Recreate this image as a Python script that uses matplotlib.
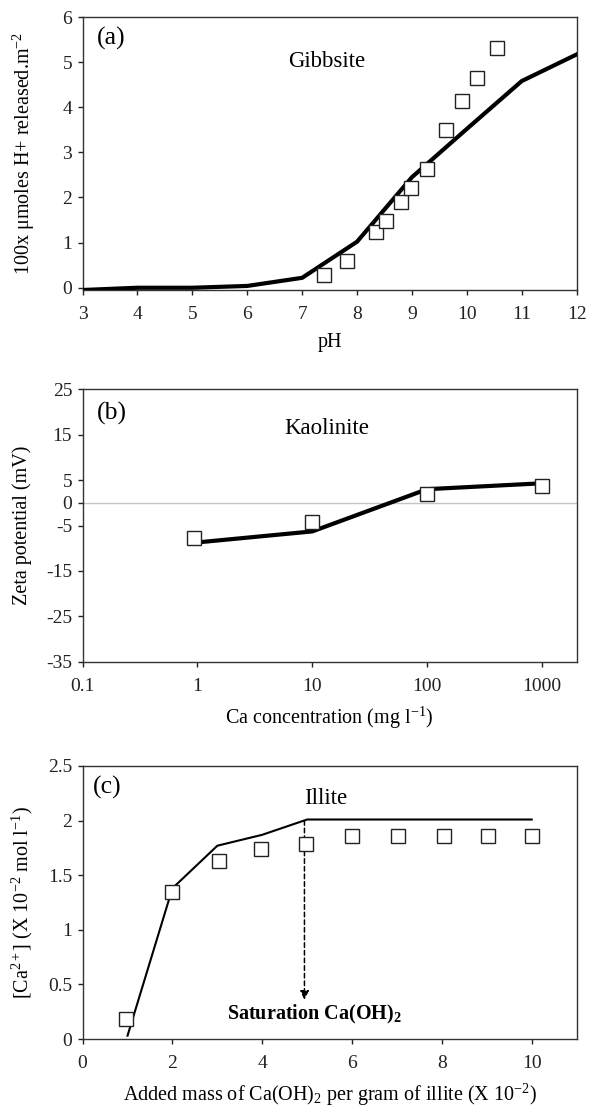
import matplotlib
matplotlib.use("Agg")
import matplotlib.pyplot as plt
from matplotlib.ticker import FixedLocator, FixedFormatter, NullLocator

plt.rcParams['font.family'] = ['Liberation Serif', 'DejaVu Serif']
plt.rcParams['mathtext.fontset'] = 'custom'
plt.rcParams['mathtext.rm'] = 'Liberation Serif'
plt.rcParams['mathtext.it'] = 'Liberation Serif:italic'
plt.rcParams['mathtext.bf'] = 'Liberation Serif:bold'
plt.rcParams['axes.unicode_minus'] = False

# ---- Panel (a): Gibbsite ----
gib_ph_obs = [7.39, 7.82, 8.35, 8.53, 8.80, 8.99, 9.28, 9.62, 9.91, 10.18, 10.55]
gib_h_obs = [0.28, 0.60, 1.24, 1.47, 1.90, 2.22, 2.63, 3.50, 4.14, 4.64, 5.31]
gib_ph_mod = [3, 4, 5, 6, 7, 8, 9, 10, 11, 12]
gib_h_mod = [-0.05, 0.0, 0.0, 0.04, 0.22, 1.02, 2.45, 3.52, 4.58, 5.17]

# ---- Panel (b): Kaolinite ----
kao_ca_obs = [0.93, 10, 100, 1000]
kao_z_obs = [-7.8, -4.3, 1.9, 3.7]
kao_ca_mod = [0.93, 10, 100, 1000]
kao_z_mod = [-8.8, -6.3, 3.0, 4.3]
kao_xticks = [0.1, 1, 10, 100, 1000]
kao_xticklabels = ['0.1', '1', '10', '100', '1000']

# ---- Panel (c): Illite ----
ill_m_obs = [0.97, 1.99, 3.03, 3.97, 4.98, 5.99, 7.02, 8.04, 9.03, 10.0]
ill_ca_obs = [0.18, 1.35, 1.63, 1.74, 1.79, 1.86, 1.86, 1.86, 1.86, 1.86]
ill_m_mod = [1, 2, 3, 4, 5, 10]
ill_ca_mod = [0.03, 1.38, 1.77, 1.87, 2.01, 2.01]
sat_x = 4.94
sat_y_top = 2.0
sat_y_tip = 0.36

W, H = 592, 1106
fig = plt.figure(figsize=(W / 100, H / 100), dpi=100)

L, R = 82.6, 576.6

def ax_at(top, bottom):
    return fig.add_axes([L / W, 1 - bottom / H, (R - L) / W, (bottom - top) / H])

tick_fs = 14
lab_fs = 14.5
name_fs = 16.5
tag_fs = 18.5
mk = dict(marker='s', ms=9.5, mfc='white', mec='#222222', mew=1.0, ls='none', zorder=4)

def style(ax):
    for s in ax.spines.values():
        s.set_linewidth(1.0)
        s.set_color('#333333')
    ax.tick_params(direction='out', length=3.5, width=1, labelsize=tick_fs, colors='#222222')
    ax.tick_params(axis='x', pad=8)
    ax.tick_params(axis='y', pad=4)

def place_labels(ax, top, bottom, xlab_y, ylab_x=22.5):
    h = bottom - top
    ax.xaxis.set_label_coords(0.5, (bottom - xlab_y) / h)
    ax.xaxis.label.set_va('center')
    ax.yaxis.set_label_coords((ylab_x - L) / (R - L), 0.5)
    ax.yaxis.label.set_va('center')

# (a)
ta, ba = 17, 290
ax1 = ax_at(ta, ba)
ax1.plot(gib_ph_mod, gib_h_mod, color='black', lw=3.0, zorder=3)
ax1.plot(gib_ph_obs, gib_h_obs, **mk)
ax1.set_xlim(3, 12)
ax1.set_ylim(-0.05, 6)
ax1.set_xticks(range(3, 13))
ax1.set_yticks(range(0, 7))
style(ax1)
ax1.set_xlabel('pH', fontsize=lab_fs)
ax1.set_ylabel(r'100x μmoles H+ released.m$^{-2}$', fontsize=lab_fs)
place_labels(ax1, ta, ba, 343, 23.5)
ax1.text(0.0285, 0.923, '(a)', transform=ax1.transAxes, fontsize=tag_fs, va='center', ha='left')
ax1.text(0.4935, 0.836, 'Gibbsite', transform=ax1.transAxes, fontsize=name_fs, va='center', ha='center')

# (b)
tb, bb = 389.3, 661.7
ax2 = ax_at(tb, bb)
ax2.axhline(0, color='#c4c4c4', lw=1.0, zorder=1)
ax2.plot(kao_ca_mod, kao_z_mod, color='black', lw=3.0, zorder=3)
ax2.plot(kao_ca_obs, kao_z_obs, **mk)
ax2.set_xscale('log')
ax2.set_xlim(0.1, 2000)
ax2.set_ylim(-35, 25)
ax2.xaxis.set_major_locator(FixedLocator(kao_xticks))
ax2.xaxis.set_major_formatter(FixedFormatter(kao_xticklabels))
ax2.xaxis.set_minor_locator(NullLocator())
ax2.set_yticks([-35, -25, -15, -5, 0, 5, 15, 25])
style(ax2)
ax2.set_xlabel(r'Ca concentration (mg l$^{-1}$)', fontsize=lab_fs)
ax2.set_ylabel('Zeta potential (mV)', fontsize=lab_fs)
place_labels(ax2, tb, bb, 718, 22)
ax2.text(0.0285, 0.912, '(b)', transform=ax2.transAxes, fontsize=tag_fs, va='center', ha='left')
ax2.text(0.494, 0.857, 'Kaolinite', transform=ax2.transAxes, fontsize=name_fs, va='center', ha='center')

# (c)
tc, bc = 766, 1039
ax3 = ax_at(tc, bc)
ax3.plot(ill_m_mod, ill_ca_mod, color='black', lw=1.5, zorder=3)
ax3.plot(ill_m_obs, ill_ca_obs, **mk)
ax3.annotate('', xy=(sat_x, sat_y_tip), xytext=(sat_x, sat_y_top),
             arrowprops=dict(arrowstyle='-|>', ls=(0, (3, 2)), lw=1.1, color='black',
                             mutation_scale=13, shrinkA=0, shrinkB=0))
ax3.text(5.16, 0.22, r'Saturation Ca(OH)$_{\mathbf{2}}$', fontsize=14.5, fontweight='bold',
         ha='center', va='center')
ax3.set_xlim(0, 11)
ax3.set_ylim(0, 2.5)
ax3.set_xticks(range(0, 11, 2))
ax3.set_yticks([0, 0.5, 1, 1.5, 2, 2.5])
ax3.set_yticklabels(['0', '0.5', '1', '1.5', '2', '2.5'])
style(ax3)
ax3.set_xlabel(r'Added mass of Ca(OH)$_2$ per gram of illite (X 10$^{-2}$)', fontsize=lab_fs)
ax3.set_ylabel(r'[Ca$^{2+}$] (X 10$^{-2}$ mol l$^{-1}$)', fontsize=lab_fs)
place_labels(ax3, tc, bc, 1095, 22)
ax3.text(0.0217, 0.923, '(c)', transform=ax3.transAxes, fontsize=tag_fs, va='center', ha='left')
ax3.text(0.4915, 0.881, 'Illite', transform=ax3.transAxes, fontsize=name_fs, va='center', ha='center')

fig.savefig('out.png', dpi=100)
